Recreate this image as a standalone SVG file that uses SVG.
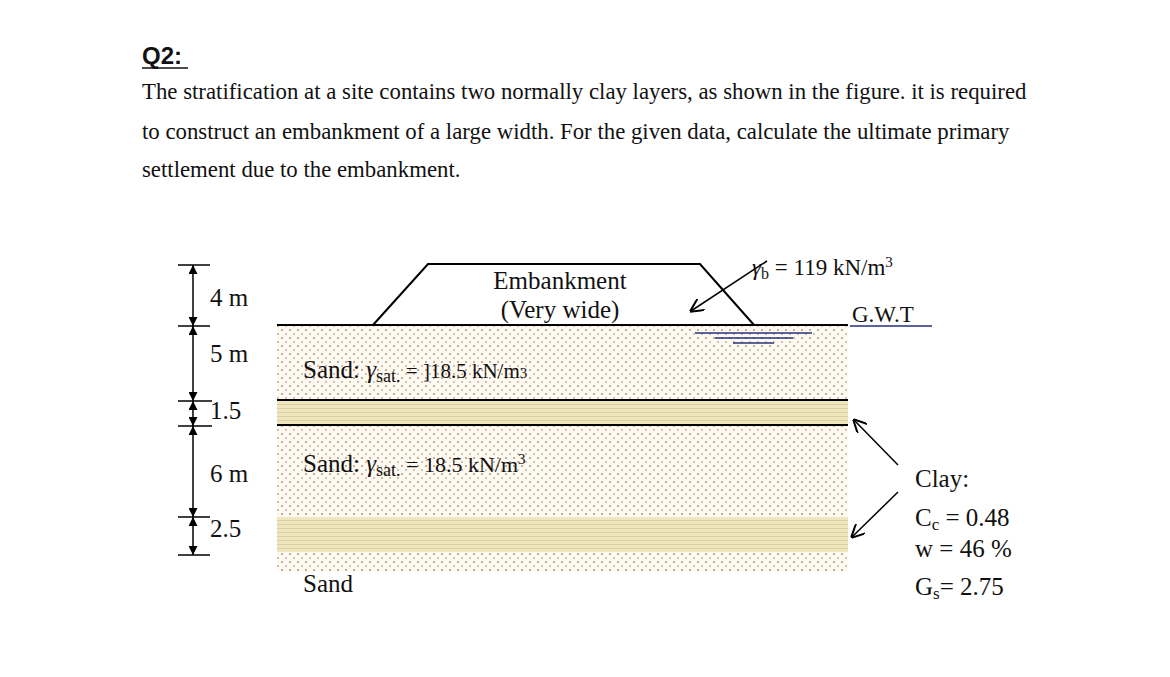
<svg xmlns="http://www.w3.org/2000/svg" width="1170" height="677" viewBox="0 0 1170 677">
<style>
.s{font-family:"Liberation Serif",serif;fill:#111}
.t{font-size:22.8px}
.d{font-size:25px}
.ln{stroke:#000;stroke-width:2;fill:none}
.dim{stroke:#000;stroke-width:1.5;fill:none}
</style>
<defs>
<pattern id="sand" width="8" height="8" patternUnits="userSpaceOnUse"><rect width="8" height="8" fill="#fdf9f3"/><circle cx="2" cy="2" r="0.9" fill="#b8855a"/><circle cx="6" cy="6" r="0.9" fill="#c9a48a"/></pattern>
<pattern id="clay" width="8" height="4" patternUnits="userSpaceOnUse"><rect width="8" height="4" fill="#efe6bf"/><rect y="0" width="8" height="1" fill="#d9cfa0"/></pattern>
<marker id="ar" viewBox="0 0 10 10" refX="9" refY="5" markerWidth="9" markerHeight="9" orient="auto-start-reverse"><path d="M0,0 L10,5 L0,10" fill="none" stroke="#000" stroke-width="1.5"/></marker>
<marker id="fa" viewBox="0 0 10 10" refX="10" refY="5" markerWidth="6" markerHeight="6" orient="auto-start-reverse"><path d="M0,0 L10,5 L0,10z" fill="#000"/></marker>
</defs>
<rect width="1170" height="677" fill="#fff"/>
<text x="142" y="64" font-family="Liberation Sans,sans-serif" font-size="24" font-weight="bold" fill="#111">Q2:</text>
<line x1="142" y1="68" x2="188" y2="68" stroke="#111" stroke-width="1.5"/>
<text class="s t" x="142" y="99">The stratification at a site contains two normally clay layers, as shown in the figure. it is required</text>
<text class="s t" x="142" y="139">to construct an embankment of a large width. For the given data, calculate the ultimate primary</text>
<text class="s t" x="142" y="177">settlement due to the embankment.</text>
<g id="layers">
<rect x="277" y="325" width="571" height="75" fill="url(#sand)"/>
<rect x="277" y="400" width="571" height="25" fill="url(#clay)"/>
<rect x="277" y="425" width="571" height="92" fill="url(#sand)"/>
<rect x="277" y="517" width="571" height="35" fill="url(#clay)"/>
<rect x="277" y="552" width="571" height="20" fill="url(#sand)"/>
<line class="ln" x1="277" y1="325" x2="848" y2="325"/>
<line class="ln" x1="277" y1="400" x2="848" y2="400"/>
<line class="ln" x1="277" y1="425" x2="848" y2="425"/>
</g>
<g id="embankment">
<polyline class="ln" points="373,325 428,264 700,264 754,325"/>
<text class="s d" x="560" y="289" text-anchor="middle">Embankment</text>
<text class="s d" x="560" y="318" text-anchor="middle">(Very wide)</text>
</g>
<g id="gwt">
<line x1="695" y1="333" x2="812" y2="333" stroke="#23307a" stroke-width="1.5"/>
<line x1="715" y1="338" x2="793" y2="338" stroke="#23307a" stroke-width="1.5"/>
<line x1="733" y1="343" x2="774" y2="343" stroke="#23307a" stroke-width="1.5"/>
<text class="s" x="852" y="322" font-size="23">G.W.T</text>
<line x1="850" y1="326" x2="932" y2="326" stroke="#23307a" stroke-width="1.5"/>
</g>
<g id="labels">
<text class="s d" x="303" y="378">Sand: <tspan font-style="italic">γ</tspan><tspan font-size="18" dy="4">sat.</tspan><tspan dy="-4" font-size="21"> = ]18.5  kN/m</tspan><tspan font-size="15">3</tspan></text>
<text class="s d" x="303" y="472">Sand: <tspan font-style="italic">γ</tspan><tspan font-size="18" dy="4">sat.</tspan><tspan dy="-4" font-size="22"> = 18.5 kN/m</tspan><tspan font-size="15" dy="-8">3</tspan></text>
<text class="s d" x="303" y="592">Sand</text>
<text class="s" x="752" y="275" font-size="23"><tspan font-style="italic">γ</tspan><tspan font-size="16" dy="4">b</tspan><tspan dy="-4"> = 119 kN/m</tspan><tspan font-size="15" dy="-8">3</tspan></text>
<text class="s d" x="915" y="487">Clay:</text>
<text class="s d" x="915" y="526">C<tspan font-size="17" dy="4">c</tspan><tspan dy="-4"> = 0.48</tspan></text>
<text class="s d" x="915" y="557">w  = 46 %</text>
<text class="s d" x="915" y="595">G<tspan font-size="17" dy="4">s</tspan><tspan dy="-4">= 2.75</tspan></text>
<text class="s d" x="210" y="306">4 m</text>
<text class="s d" x="210" y="362">5 m</text>
<text class="s d" x="210" y="419">1.5</text>
<text class="s d" x="210" y="482">6 m</text>
<text class="s d" x="210" y="537">2.5</text>
</g>
<g id="connectors">
<line x1="767" y1="261" x2="691" y2="311" stroke="#000" stroke-width="1.5" marker-end="url(#ar)"/>
<line x1="898" y1="465" x2="854" y2="420" stroke="#000" stroke-width="1.5" marker-end="url(#ar)"/>
<line x1="898" y1="492" x2="852" y2="537" stroke="#000" stroke-width="1.5" marker-end="url(#ar)"/>
<g class="dim">
<line x1="178" y1="265" x2="210" y2="265"/><line x1="178" y1="326" x2="210" y2="326"/>
<line x1="178" y1="401" x2="212" y2="401"/><line x1="178" y1="426" x2="212" y2="426"/>
<line x1="178" y1="517" x2="210" y2="517"/><line x1="178" y1="555" x2="210" y2="555"/>
<line x1="193" y1="265" x2="193" y2="326" marker-start="url(#fa)" marker-end="url(#fa)"/>
<line x1="193" y1="326" x2="193" y2="401" marker-start="url(#fa)" marker-end="url(#fa)"/>
<line x1="193" y1="401" x2="193" y2="426" marker-start="url(#fa)" marker-end="url(#fa)"/>
<line x1="193" y1="426" x2="193" y2="517" marker-start="url(#fa)" marker-end="url(#fa)"/>
<line x1="193" y1="517" x2="193" y2="555" marker-start="url(#fa)" marker-end="url(#fa)"/>
</g>
</g>
</svg>
